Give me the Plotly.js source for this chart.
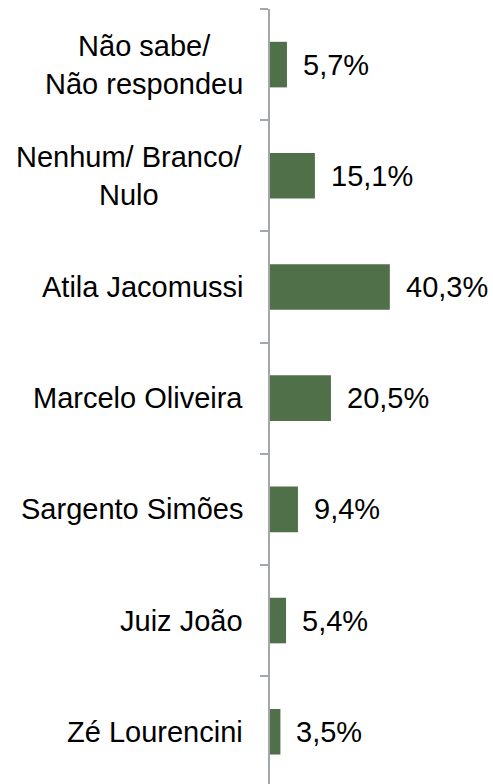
<!DOCTYPE html>
<html>
<head>
<meta charset="utf-8">
<script src="https://cdn.plot.ly/plotly-3.0.1.min.js"></script>
<style>html,body{margin:0;padding:0;background:#fff;}#chart{width:493px;height:784px;}</style>
</head>
<body>
<div id="chart"></div>
<script>
const categories = ["Zé Lourencini", "Juiz João", "Sargento Simões", "Marcelo Oliveira", "Atila Jacomussi", "Nenhum/ Branco/<br>Nulo", "Não sabe/<br>Não respondeu"];
const values = [3.5, 5.4, 9.4, 20.5, 40.3, 15.1, 5.7];

const fmt = v => v.toFixed(1).replace('.', ',') + '%';
const font = {family: 'Liberation Sans, Arial, sans-serif', size: 29, color: '#000'};

const annotations = [];
categories.forEach((c, i) => {
  annotations.push({x: values[i], y: c, xref: 'x', yref: 'y', text: fmt(values[i]), showarrow: false,
    xanchor: 'left', yanchor: 'middle', xshift: 14, font: font});
  annotations.push({x: 0, y: c, xref: 'paper', yref: 'y', text: c, showarrow: false,
    xanchor: 'right', yanchor: 'middle', xshift: -25, align: 'center', font: font});
});

const trace = {type: 'bar', orientation: 'h', x: values, y: categories, width: 0.41,
  marker: {color: '#4f7048', line: {width: 0}}, hoverinfo: 'none'};

const layout = {
  width: 493, height: 784,
  margin: {l: 270, r: 0, t: 9, b: 0},
  paper_bgcolor: '#fff', plot_bgcolor: '#fff',
  showlegend: false,
  xaxis: {range: [0, 75], visible: false, fixedrange: true},
  yaxis: {type: 'category', range: [-0.47, 6.5], showticklabels: false, showgrid: false, zeroline: false,
    showline: true, linecolor: '#a3a7ab', linewidth: 2,
    ticks: 'outside', tickson: 'boundaries', ticklen: 8, tickwidth: 2, tickcolor: '#a3a7ab'},
  annotations: annotations
};

Plotly.newPlot('chart', [trace], layout, {displayModeBar: false, staticPlot: true});
</script>
</body>
</html>
